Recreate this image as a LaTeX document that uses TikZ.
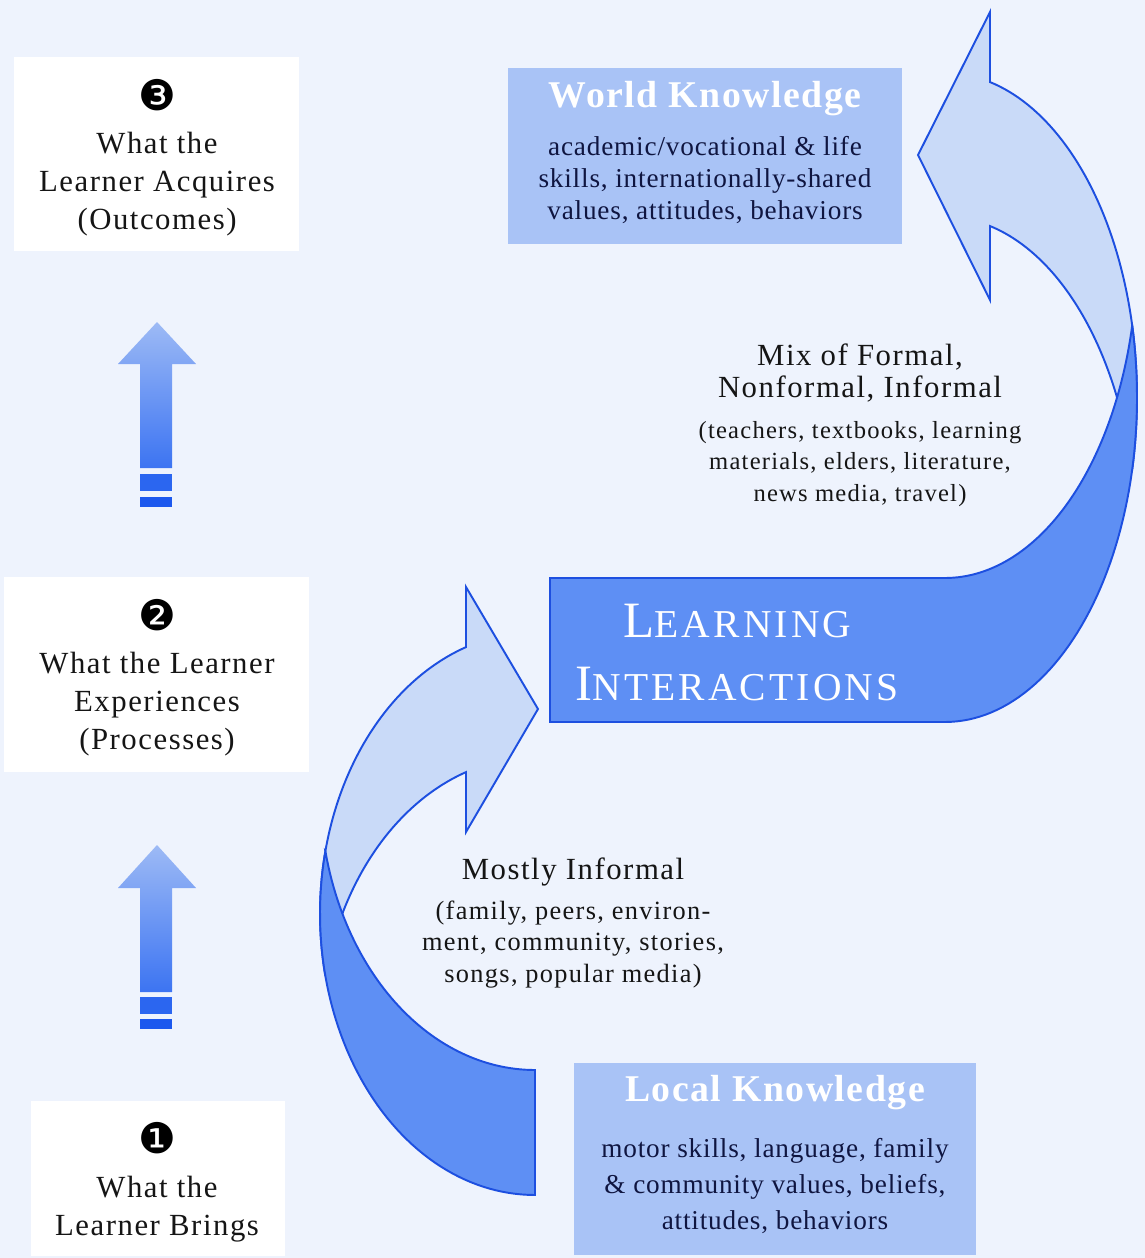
\documentclass[tikz,border=0pt]{standalone}
\usepackage{fontspec}
\setmainfont{Liberation Serif}
\newfontfamily\dingfont{DejaVu Sans}
\definecolor{bg}{HTML}{EEF3FD}
\definecolor{kfill}{HTML}{A9C3F6}
\definecolor{lightpart}{HTML}{C9DAF8}
\definecolor{darkpart}{HTML}{5E8FF4}
\definecolor{edge}{HTML}{1D4FE0}
\definecolor{upA}{HTML}{9DBAF5}
\definecolor{upB}{HTML}{3C74F2}
\definecolor{barA}{HTML}{2B66F0}
\definecolor{barB}{HTML}{1C58EE}
\definecolor{navy}{HTML}{0F1540}
\definecolor{ink}{HTML}{151515}
\begin{document}
\begin{tikzpicture}[x=0.02cm,y=-0.02cm,
  whitebox/.style={fill=white, draw=none, inner sep=0},
  kbox/.style={fill=kfill, draw=none, inner sep=0},
  lbl/.style={inner sep=0, align=center, text=ink, font=\fontsize{17.5}{21.5}\selectfont\addfontfeature{LetterSpace=5}},
  num/.style={inner sep=0, text=black, font=\dingfont\fontsize{24}{24}\selectfont},
  ktitle/.style={inner sep=0, text=white, font=\fontsize{21.5}{24}\selectfont\bfseries\addfontfeature{LetterSpace=4}},
  kbody/.style={inner sep=0, align=center, text=navy, font=\fontsize{15.5}{18.2}\selectfont\addfontfeature{LetterSpace=3}},
  kbodyL/.style={inner sep=0, align=center, text=navy, font=\fontsize{15.5}{20.7}\selectfont\addfontfeature{LetterSpace=3}},
  midhead/.style={inner sep=0, align=center, text=ink, font=\fontsize{17.5}{18.1}\selectfont\addfontfeature{LetterSpace=5}},
  midsmall/.style={inner sep=0, align=center, text=ink, font=\fontsize{14}{17.9}\selectfont\addfontfeature{LetterSpace=5}},
  midsmallB/.style={inner sep=0, align=center, text=ink, font=\fontsize{15}{17.9}\selectfont\addfontfeature{LetterSpace=5}},
  bandlight/.style={fill=lightpart, draw=edge, line width=1.1pt},
  banddark/.style={fill=darkpart, draw=edge, line width=1.1pt},
  bigtext/.style={inner sep=0, text=white, anchor=base west}
]
\useasboundingbox (0,0) rectangle (1145,1258);
\fill[bg] (0,0) rectangle (1145,1258);

% white label boxes
\node[whitebox, minimum width=5.70cm, minimum height=3.88cm] (box3) at (156.5,154) {};
\node[whitebox, minimum width=6.10cm, minimum height=3.90cm] (box2) at (156.5,674.5) {};
\node[whitebox, minimum width=5.08cm, minimum height=3.10cm] (box1) at (158,1178.5) {};

% knowledge boxes
\node[kbox, minimum width=7.88cm, minimum height=3.52cm] (world) at (705,156) {};
\node[kbox, minimum width=8.04cm, minimum height=3.84cm] (local) at (775,1159) {};

% up arrows (gradient)
\shade[top color=upA, bottom color=upB] (157,322) -- (196,364) -- (172,364) -- (172,468) -- (140,468) -- (140,364) -- (118,364) -- cycle;
\fill[barA] (140,474) rectangle (172,491);
\fill[barB] (140,497) rectangle (172,507);
\shade[top color=upA, bottom color=upB] (157,845) -- (196,888) -- (172,888) -- (172,992) -- (140,992) -- (140,888) -- (118,888) -- cycle;
\fill[barA] (140,997) rectangle (172,1014);
\fill[barB] (140,1019) rectangle (172,1029);

% lower curved arrow (local -> learning interactions)
\filldraw[bandlight] plot[domain=167.17:251.28, samples=60, variable=\t] ({535+215*cos(\t)},{913.6+281.4*sin(\t)})
  -- (466,587) -- (538,709) -- (466,832)
  -- plot[domain=251.28:192.83, samples=60, variable=\t] ({535+215*cos(\t)},{1038.6+281.4*sin(\t)}) -- cycle;
\filldraw[banddark] plot[domain=90:167.19, samples=60, variable=\t] ({535+215*cos(\t)},{788.6+281.4*sin(\t)})
  -- plot[domain=192.85:90, samples=60, variable=\t] ({535+215*cos(\t)},{913.6+281.4*sin(\t)}) -- cycle;

% upper curved arrow (learning interactions -> world)
\filldraw[bandlight] plot[domain=-76.45:12.82, samples=60, variable=\t] ({945+192*cos(\t)},{397.5+324.5*sin(\t)})
  -- plot[domain=-12.82:-76.45, samples=60, variable=\t] ({945+192*cos(\t)},{541.5+324.5*sin(\t)})
  -- (990,300) -- (918,155) -- (990,12) -- cycle;
\filldraw[banddark] (550,578) -- plot[domain=90:12.82, samples=60, variable=\t] ({945+192*cos(\t)},{253.5+324.5*sin(\t)})
  -- plot[domain=-12.82:90, samples=60, variable=\t] ({945+192*cos(\t)},{397.5+324.5*sin(\t)})
  -- (550,722) -- cycle;

% LEARNING INTERACTIONS
\node[bigtext] (learn) at (623,637) {\fontsize{29}{30}\selectfont\addfontfeature{LetterSpace=8}L\fontsize{22.5}{23}\selectfont\addfontfeature{LetterSpace=8}EARNING};
\node[bigtext] (inter) at (575,700) {\fontsize{29}{30}\selectfont\addfontfeature{LetterSpace=8}I\fontsize{22.5}{23}\selectfont\addfontfeature{LetterSpace=8}NTERACTIONS};

% left labels
\node[num] (n3) at (157,95) {❸};
\node[lbl] (t3) at (157,184) {What the\\Learner Acquires\\(Outcomes)};
\node[num] (n2) at (157,615) {❷};
\node[lbl] (t2) at (157,704) {What the Learner\\Experiences\\(Processes)};
\node[num] (n1) at (157,1138) {❶};
\node[lbl] (t1) at (157,1209) {What the\\Learner Brings};

% knowledge texts
\node[ktitle] (wtitle) at (705,99) {World Knowledge};
\node[kbody] (wbody) at (705,180) {academic/vocational \& life\\skills, internationally-shared\\values, attitudes, behaviors};
\node[ktitle] (ltitle) at (775,1093) {Local Knowledge};
\node[kbodyL] (lbody) at (775,1186) {motor skills, language, family\\\& community values, beliefs,\\attitudes, behaviors};

% middle texts
\node[midhead] (mix) at (860,373) {Mix of Formal,\\Nonformal, Informal};
\node[midsmall] (mixd) at (860,464) {(teachers, textbooks, learning\\materials, elders, literature,\\news media, travel)};
\node[midhead] (mostly) at (573,872) {Mostly Informal};
\node[midsmallB] (mostlyd) at (573,944.5) {(family, peers, environ-\\ment, community, stories,\\songs, popular media)};
\end{tikzpicture}
\end{document}
